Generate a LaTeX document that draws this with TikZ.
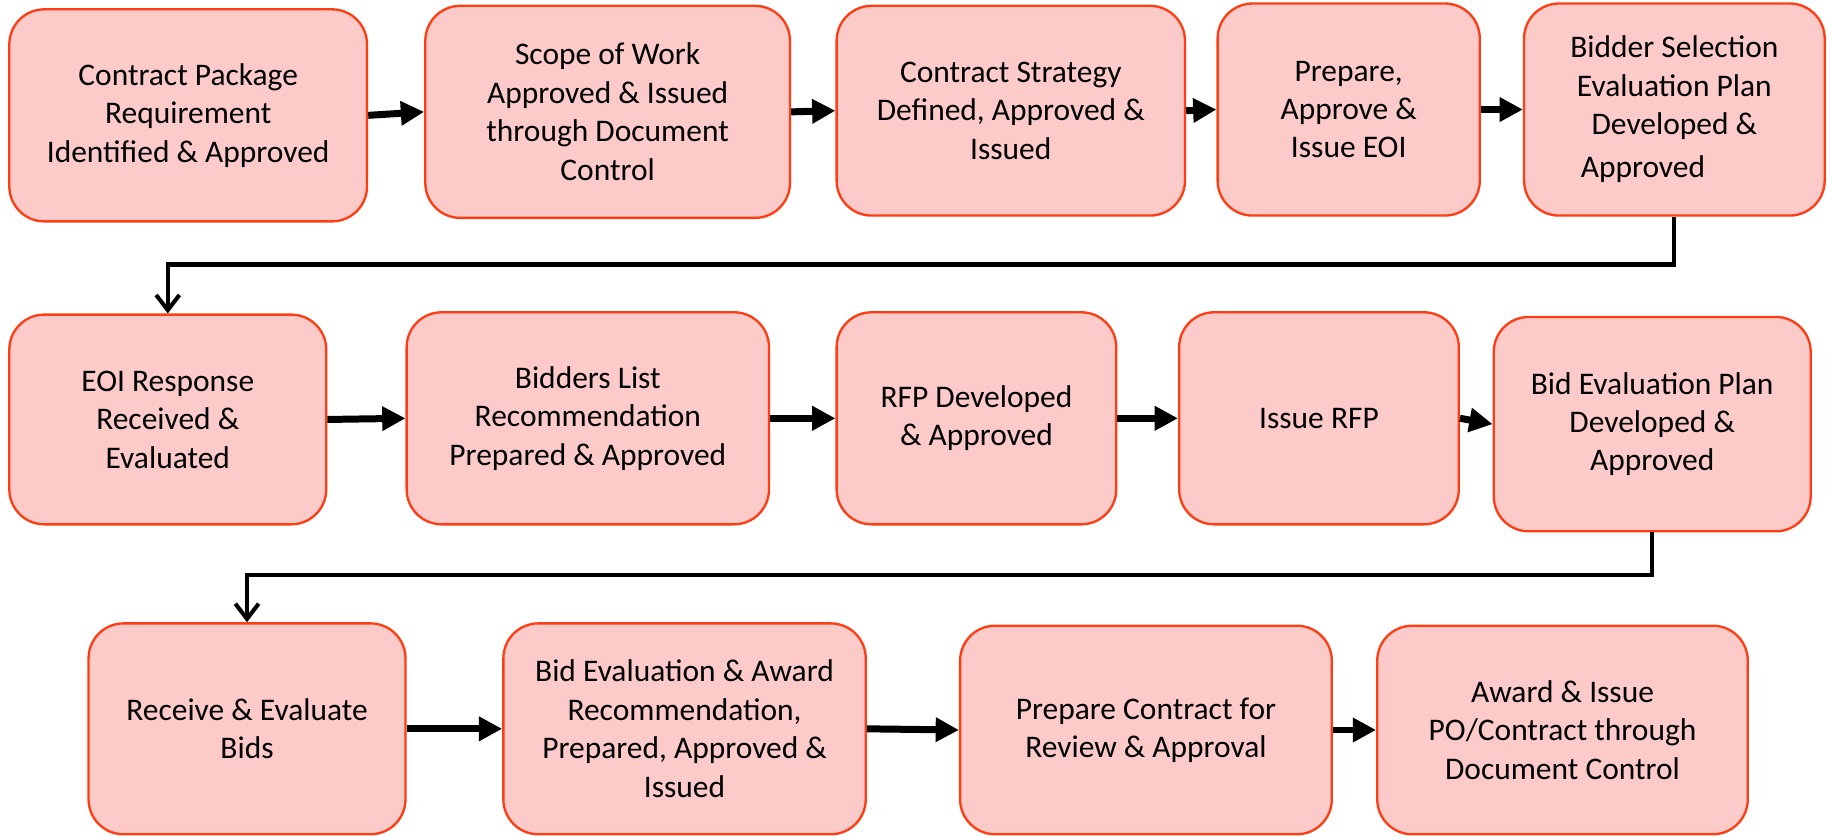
\documentclass[tikz,border=0pt]{standalone}
\usepackage{fontspec}
\setmainfont{Carlito}
\usetikzlibrary{arrows.meta}
\definecolor{boxfill}{HTML}{FDCACA}
\definecolor{boxedge}{HTML}{FF3D12}
\begin{document}
\begin{tikzpicture}[x=1pt,y=-1pt,
  box/.style={draw=boxedge, fill=boxfill, line width=2pt, rounded corners=30pt,
    align=center, font=\fontsize{27}{33}\selectfont, inner sep=0pt},
  flow/.style={line width=6pt, -{Triangle[length=20pt,width=20pt]}},
  elbow/.style={line width=3.5pt, -{Straight Barb[length=13pt,width=20pt]}}]
\useasboundingbox (0,0) rectangle (1568,718);
% row 1
\node[box, minimum width=307pt, minimum height=182pt] (b1) at (161.5,99) {Contract Package\\Requirement\\Identified \& Approved};
\node[box, minimum width=313pt, minimum height=182pt] (b2) at (521.5,96) {Scope of Work\\Approved \& Issued\\through Document\\Control};
\node[box, minimum width=299pt, minimum height=180pt] (b3) at (867.5,95) {Contract Strategy\\Defined, Approved \&\\Issued};
\node[box, minimum width=225pt, minimum height=182pt] (b4) at (1157.5,94) {Prepare,\\Approve \&\\Issue EOI};
\node[box, minimum width=258pt, minimum height=182pt] (b5) at (1437,94) {Bidder Selection\\Evaluation Plan\\Developed \&\\[4pt]Approved\hspace*{2em}};
% row 2
\node[box, minimum width=272pt, minimum height=180pt] (b6) at (144,360) {EOI Response\\Received \&\\Evaluated};
\node[box, minimum width=311pt, minimum height=182pt] (b7) at (504.5,359) {Bidders List\\Recommendation\\Prepared \& Approved};
\node[box, minimum width=240pt, minimum height=182pt] (b8) at (838,359) {RFP Developed\\\& Approved};
\node[box, minimum width=240pt, minimum height=182pt] (b9) at (1132,359) {Issue RFP};
\node[box, minimum width=272pt, minimum height=184pt] (b10) at (1418,364) {Bid Evaluation Plan\\Developed \&\\Approved};
% row 3
\node[box, minimum width=272pt, minimum height=181pt] (b11) at (212,625.5) {Receive \& Evaluate\\Bids};
\node[box, minimum width=311pt, minimum height=181pt] (b12) at (587.5,625.5) {Bid Evaluation \& Award\\Recommendation,\\Prepared, Approved \&\\Issued};
\node[box, minimum width=319pt, minimum height=179pt] (b13) at (983.5,626.5) {Prepare Contract for\\Review \& Approval};
\node[box, minimum width=318pt, minimum height=179pt] (b14) at (1341,626.5) {Award \& Issue\\PO/Contract through\\Document Control};
% flow arrows
\draw[flow] (b1.east) -- (b2.west);
\draw[flow] (b2.east) -- (b3.west);
\draw[flow] (b3.east) -- (b4.west);
\draw[flow] (b4.east) -- (b5.west);
\draw[flow] (b6.east) -- (b7.west);
\draw[flow] (b7.east) -- (b8.west);
\draw[flow] (b8.east) -- (b9.west);
\draw[flow] (b9.east) -- (b10.west);
\draw[flow] (b11.east) -- (b12.west);
\draw[flow] (b12.east) -- (b13.west);
\draw[flow] (b13.east) -- (b14.west);
% elbow connectors
\coordinate (r1) at (0,227);
\coordinate (r2) at (0,493.5);
\draw[elbow] (b5.south) -- (b5.south |- r1) -- (b6.north |- r1) -- (b6.north);
\draw[elbow] (b10.south) -- (b10.south |- r2) -- (b11.north |- r2) -- (b11.north);
\end{tikzpicture}
\end{document}
